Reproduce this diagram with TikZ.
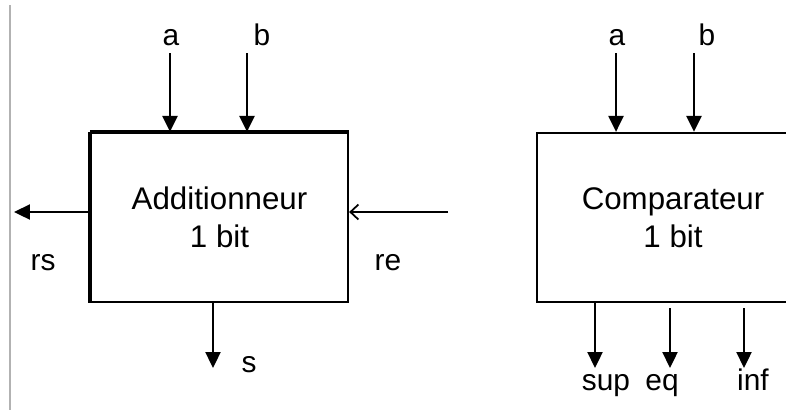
\documentclass[tikz,border=0pt]{standalone}
\usepackage{fontspec}
\setmainfont{Liberation Sans}
\usetikzlibrary{arrows.meta, positioning}

\begin{document}
\begin{tikzpicture}[
    x=0.02cm, y=-0.02cm,
    block/.style={draw, line width=1.3pt, minimum height=3.38cm, align=center, inner sep=0pt, font=\fontsize{17.8}{21.5}\selectfont},
    sig/.style={anchor=base, inner sep=0pt, font=\fontsize{17}{20}\selectfont},
    arrow/.style={-{Triangle[length=3.2mm, width=3mm]}, line width=1.3pt},
    openarrow/.style={-{Straight Barb[length=1.6mm, width=3mm]}, line width=1pt}
]
\clip (0,0) rectangle (786,410);
\draw[gray!60, line width=0.6pt] (10,5) -- (10,410);

% adder
\node[block, minimum width=5.14cm] (add) at (219.5,217.5) {Additionneur\\1 bit};
\draw[line width=2.2pt] (add.north west) -- (add.south west);
\draw[line width=1.8pt] (add.north west) -- (add.north east);
\coordinate (add-a) at (170,53);
\coordinate (add-b) at (247,53);
\coordinate (add-rs) at (14,212);
\coordinate (add-re) at (448,212);
\coordinate (add-s) at (213,368);
\draw[arrow] (add-a) -- (add-a |- add.north);
\draw[arrow] (add-b) -- (add-b |- add.north);
\draw[arrow] (add-rs -| add.west) -- (add-rs);
\draw[openarrow] (add-re) -- (add-re -| add.east);
\draw[arrow] (add-s |- add.south) -- (add-s);
\node[sig] (lbl-add-a) at (171,45) {a};
\node[sig] (lbl-add-b) at (262,45) {b};
\node[sig] (lbl-rs) at (43,270) {rs};
\node[sig] (lbl-re) at (388,270) {re};
\node[sig] (lbl-s) at (249,372) {s};

% comparator
\node[block, minimum width=5.44cm] (comp) at (673,217.5) {Comparateur\\1 bit};
\coordinate (comp-a) at (616,53);
\coordinate (comp-b) at (694,53);
\coordinate (comp-sup) at (595,368);
\coordinate (comp-eq) at (670,368);
\coordinate (comp-inf) at (744,368);
\draw[arrow] (comp-a) -- (comp-a |- comp.north);
\draw[arrow, line width=1.6pt] (comp-b) -- (comp-b |- comp.north);
\draw[arrow] (comp-sup |- comp.south) -- (comp-sup);
\draw[arrow, shorten <=3pt] (comp-eq |- comp.south) -- (comp-eq);
\draw[arrow, shorten <=3pt] (comp-inf |- comp.south) -- (comp-inf);
\node[sig] (lbl-comp-a) at (617,45) {a};
\node[sig] (lbl-comp-b) at (707,45) {b};
\node[sig] (lbl-sup) at (606,390) {sup};
\node[sig] (lbl-eq) at (662,390) {eq};
\node[sig] (lbl-inf) at (753,390) {inf};
\end{tikzpicture}
\end{document}
